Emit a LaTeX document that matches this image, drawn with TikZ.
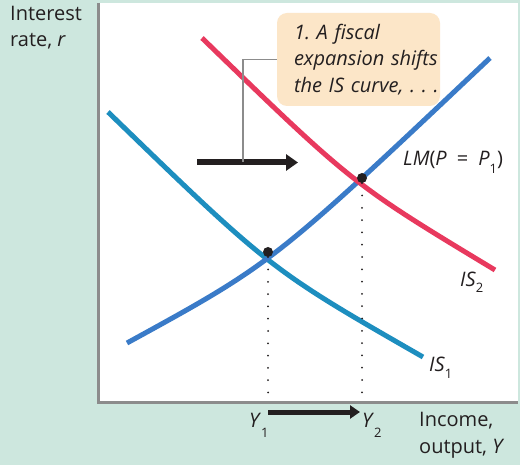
\documentclass[tikz,border=0pt]{standalone}
\usepackage{fontspec}
\setmainfont{Open Sans}
\usetikzlibrary{arrows.meta}
\definecolor{bgc}{HTML}{CDE7DE}
\definecolor{notec}{HTML}{FCE6C8}
\definecolor{isa}{HTML}{1D8EBF}
\definecolor{isb}{HTML}{E8395E}
\definecolor{lmc}{HTML}{3A7BC8}
\definecolor{axc}{HTML}{8C8C8C}
\definecolor{ink}{HTML}{231F20}
\newcommand\fsA{\fontsize{20}{26.5}\selectfont}
\newcommand\low[2][8pt]{\raisebox{-#1}{\fontsize{13}{14}\selectfont #2}}
\frenchspacing

\begin{document}
\begin{tikzpicture}[x=1pt,y=-1pt,
  lab/.style={anchor=base west,align=left,font=\fsA,text=ink,inner sep=0},
  note/.style={fill=notec,rounded corners=10pt,font=\fsA\itshape,text=ink,align=left,
    text width=129pt,inner xsep=17pt,inner ysep=0pt,minimum height=93pt},
  axis/.style={axc,line width=3pt},
  curve/.style={line width=5pt},
  move/.style={ink,line width=6pt,-{Triangle[length=12pt,width=16pt]}},
  movey/.style={ink,line width=5pt,-{Triangle[length=10pt,width=13pt]}},
  lead/.style={axc,line width=1.3pt},
  drop/.style={ink,line width=2pt,line cap=round,dash pattern=on 0pt off 12.3pt},
  pt/.style={circle,fill=ink,inner sep=0,minimum size=10pt}]
% ============ frame ============
\fill[bgc] (0,0) rectangle (520,465);
\useasboundingbox (0,0) rectangle (520,465);
\fill[white] (98,3) rectangle (518,402);
\draw[axis] (98,3) -- (98,402) -- (518,402);
\node[lab] (ry) at (10,47) {Interest\\rate, \textit{r}};
\node[lab] (ix) at (419,453) {Income,\\output, \textit{Y}};
% ============ curves ============
\draw[curve,isa] (108,112) .. controls (270.5,269.5) .. (423,357);
\draw[curve,lmc] (127,343) .. controls (273,263) .. (490,58);
\draw[curve,isb] (202,38) .. controls (352.8,184.2) .. (495,270); % IS1 moved right
\node[lab] (lm) at (403,166) {\textit{LM}(\textit{P}\enspace=\enspace\textit{P}\low{1})};
\node[lab] (is2) at (460,287) {\textit{IS}\low[6pt]{2}};
\node[lab] (is1) at (429,372) {\textit{IS}\low[6pt]{1}};
% ============ equilibria ============
\node[pt] (e1) at (268,252) {};
\node[pt] (e2) at (362,178) {};
\coordinate (b1) at (268,400);
\coordinate (b2) at (362,400);
\draw[drop] (e1) -- (b1);
\draw[drop] (e2) -- (b2);
\node[lab] (y1) at (249,427) {\textit{Y}\low[10pt]{1}};
\node[lab] (y2) at (362,427) {\textit{Y}\low[10pt]{2}};
\coordinate (a1) at (268,412);
\coordinate (a2) at (360,412);
\draw[movey] (a1) -- (a2);
% ============ shift of IS ============
\node[note] (nt) at (358.5,59.5) {1. A fiscal\\expansion~shifts\\the~IS~curve,~.~.~.};
\coordinate (sl) at (197,162.5);
\coordinate (sr) at (298,162.5);
\coordinate (sk) at (243,162.5);
\draw[move] (sl) -- (sr);
\draw[lead] (nt.west) -| (sk);
\end{tikzpicture}
\end{document}
